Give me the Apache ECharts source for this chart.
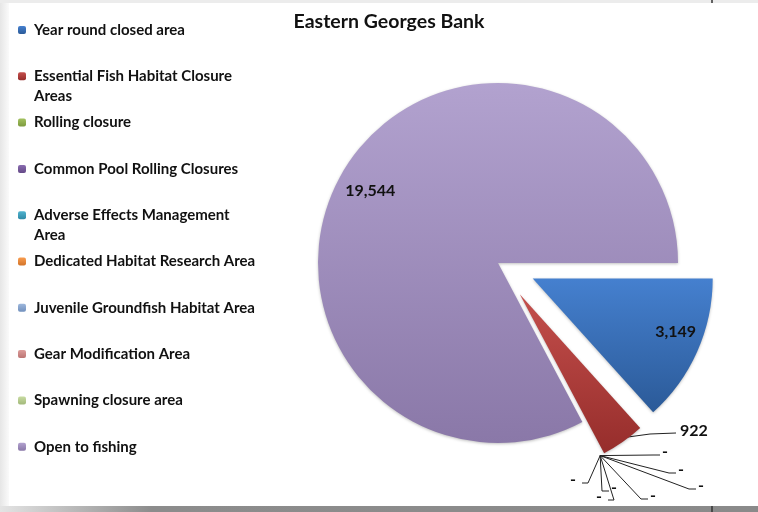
<!DOCTYPE html>
<html>
<head>
<meta charset="utf-8">
<title>Eastern Georges Bank</title>
<script src="https://cdn.jsdelivr.net/npm/echarts@6/dist/echarts.min.js"></script>
<style>
  html, body { margin: 0; padding: 0; background: #fff; }
  #chart { width: 758px; height: 512px; }
</style>
</head>
<body>
<div id="chart"></div>
<script>
  // data
  const categories = [
    'Year round closed area',
    'Essential Fish Habitat Closure Areas',
    'Rolling closure',
    'Common Pool Rolling Closures',
    'Adverse Effects Management Area',
    'Dedicated Habitat Research Area',
    'Juvenile Groundfish Habitat Area',
    'Gear Modification Area',
    'Spawning closure area',
    'Open to fishing'
  ]
  const values = [3149, 922, 0, 0, 0, 0, 0, 0, 0, 19544]

  // colour pairs (top, bottom) for the slight gradient of each slice
  const colors = [
    ['#4580cf', '#2b5a98'],
    ['#c44f4c', '#962d2b'],
    ['#a2c15e', '#7d9a3f'],
    ['#8a6cb0', '#654a88'],
    ['#50b3cf', '#2f8aa6'],
    ['#f99c4e', '#d2742a'],
    ['#9db7dc', '#7190bd'],
    ['#dc9c9a', '#bb7472'],
    ['#c8dca2', '#a3b97b'],
    ['#b2a2cf', '#8a78a8']
  ]

  const font = 'Lato, "Open Sans", sans-serif'
  const twoLine = [1, 4] // legend entries that wrap onto a second line

  const CX = 498, CY = 263, R = 180, EXPLODE = 38

  // left / middle of the small outside labels (the zero slices fan out like in Excel)
  const outsideLabelPos = {
    1: [680, 431],
    2: [662, 452],
    3: [678, 470],
    4: [698, 486],
    5: [650, 496],
    6: [611, 488],
    7: [596, 497],
    8: [570, 480]
  }

  const total = values.reduce((a, b) => a + b, 0)
  // angle (clockwise from 3 o'clock, radians) of the middle of slice i
  function midAngle(i) {
    let s = 0
    for (let k = 0; k < i; k++) s += values[k]
    return (s + values[i] / 2) / total * Math.PI * 2
  }

  const chart = echarts.init(document.getElementById('chart'))

  const grad = (c) => ({
    type: 'linear', x: 0, y: 0, x2: 0, y2: 1,
    colorStops: [{offset: 0, color: c[0]}, {offset: 1, color: c[1]}]
  })

  const data = categories.map((name, i) => {
    const item = {
      name,
      value: values[i],
      selected: i !== categories.length - 1, // everything but "Open to fishing" is pulled out
      itemStyle: {color: grad(colors[i])}
    }
    if (i === 0 || i === categories.length - 1) {
      item.label = {position: 'inside'}
      item.labelLine = {show: false}
    }
    return item
  })

  // one legend per entry so that every entry sits in an equal slot
  const legends = categories.map((name, i) => {
    const iconY = 30 + i * 46.3
    const wrap = twoLine.indexOf(i) >= 0
    return {
      data: [name],
      orient: 'vertical',
      left: 18,
      top: wrap ? iconY - 30 : iconY - 10,
      padding: 0,
      itemWidth: 8,
      itemHeight: 8,
      selectedMode: false,
      // an empty first line keeps the icon level with the first line of text
      formatter: wrap ? (n) => '\n' + n.replace(/ (\S+)$/, '\n$1') : '{name}',
      textStyle: {
        fontFamily: font,
        fontWeight: 'bold',
        fontSize: 15,
        color: '#111',
        lineHeight: 20,
        padding: [0, 0, 0, 3]
      }
    }
  })

  chart.setOption({
    backgroundColor: '#fff',
    animation: false,
    title: {
      text: 'Eastern Georges Bank',
      left: 384,
      textAlign: 'center',
      top: 7,
      textStyle: {fontFamily: font, fontWeight: 'bold', fontSize: 19.5, color: '#111'}
    },
    legend: legends,
    graphic: [
      {type: 'rect', z: -10, shape: {x: 0, y: 0, width: 9, height: 507},
        style: {fill: {type: 'linear', x: 0, y: 0, x2: 1, y2: 0,
          colorStops: [{offset: 0, color: '#e6e6e6'}, {offset: 1, color: '#fafafa'}]}}},
      {type: 'rect', z: -10, shape: {x: 0, y: 0, width: 758, height: 3}, style: {fill: '#ececec'}},
      {type: 'rect', z: -10, shape: {x: 0, y: 506, width: 758, height: 6},
        style: {fill: {type: 'linear', x: 0, y: 0, x2: 1, y2: 0,
          colorStops: [{offset: 0, color: '#e4e4e4'}, {offset: 0.2, color: '#8c8c8c'}, {offset: 1, color: '#8a8a8a'}]}}},
      {type: 'line', z: -9, shape: {x1: 712, y1: 0, x2: 712, y2: 3}, style: {stroke: '#333', lineWidth: 1.5}},
      {type: 'line', z: -9, shape: {x1: 712, y1: 506, x2: 712, y2: 512}, style: {stroke: '#333', lineWidth: 1.5}}
    ],
    series: [
      {
        type: 'pie',
        center: [CX, CY],
        radius: R,
        startAngle: 0,
        clockwise: true,
        selectedMode: 'multiple',
        selectedOffset: EXPLODE,
        avoidLabelOverlap: false,
        legendHoverLink: false,
        emphasis: {disabled: true},
        itemStyle: {shadowBlur: 3, shadowColor: 'rgba(0,0,0,0.25)', shadowOffsetY: 1},
        label: {
          show: true,
          position: 'outside',
          fontFamily: font,
          fontWeight: 'bold',
          fontSize: 16,
          color: '#111',
          formatter: (p) => p.value === 0 ? '-' : p.value.toLocaleString('en-US')
        },
        labelLine: {
          show: true,
          length: 6,
          length2: 30,
          lineStyle: {color: '#222', width: 1}
        },
        labelLayout: function (p) {
          // push the two inside labels further toward the rim, as in the original
          if (p.dataIndex === 0) return {dx: 58, dy: 16}
          if (p.dataIndex === 9) return {dx: -48, dy: -24}
          const pos = outsideLabelPos[p.dataIndex]
          if (!pos) return
          // label rect is reported before the pulled-out shift, so work in that frame
          const a = midAngle(p.dataIndex)
          const ox = EXPLODE * Math.cos(a), oy = EXPLODE * Math.sin(a)
          const r = p.labelRect
          const tx = pos[0] - ox, ty = pos[1] - oy
          let pts
          if (p.dataIndex === 1) {
            pts = [[628 - ox, 437 - oy], [650 - ox, 434 - oy], [tx - 4, ty + 2]]
          } else {
            const tip = [CX + R * Math.cos(a), CY + R * Math.sin(a)]
            const left = pos[0] < tip[0] + ox
            const end = left ? tx + 12 : tx - 2
            const bend = left ? tx + 18 : tx - 9
            pts = [tip, [bend, ty + 3], [end, ty + 3]]
          }
          return {dx: tx - r.x, dy: ty - (r.y + r.height / 2), labelLinePoints: pts}
        },
        data
      }
    ]
  })
</script>
</body>
</html>
